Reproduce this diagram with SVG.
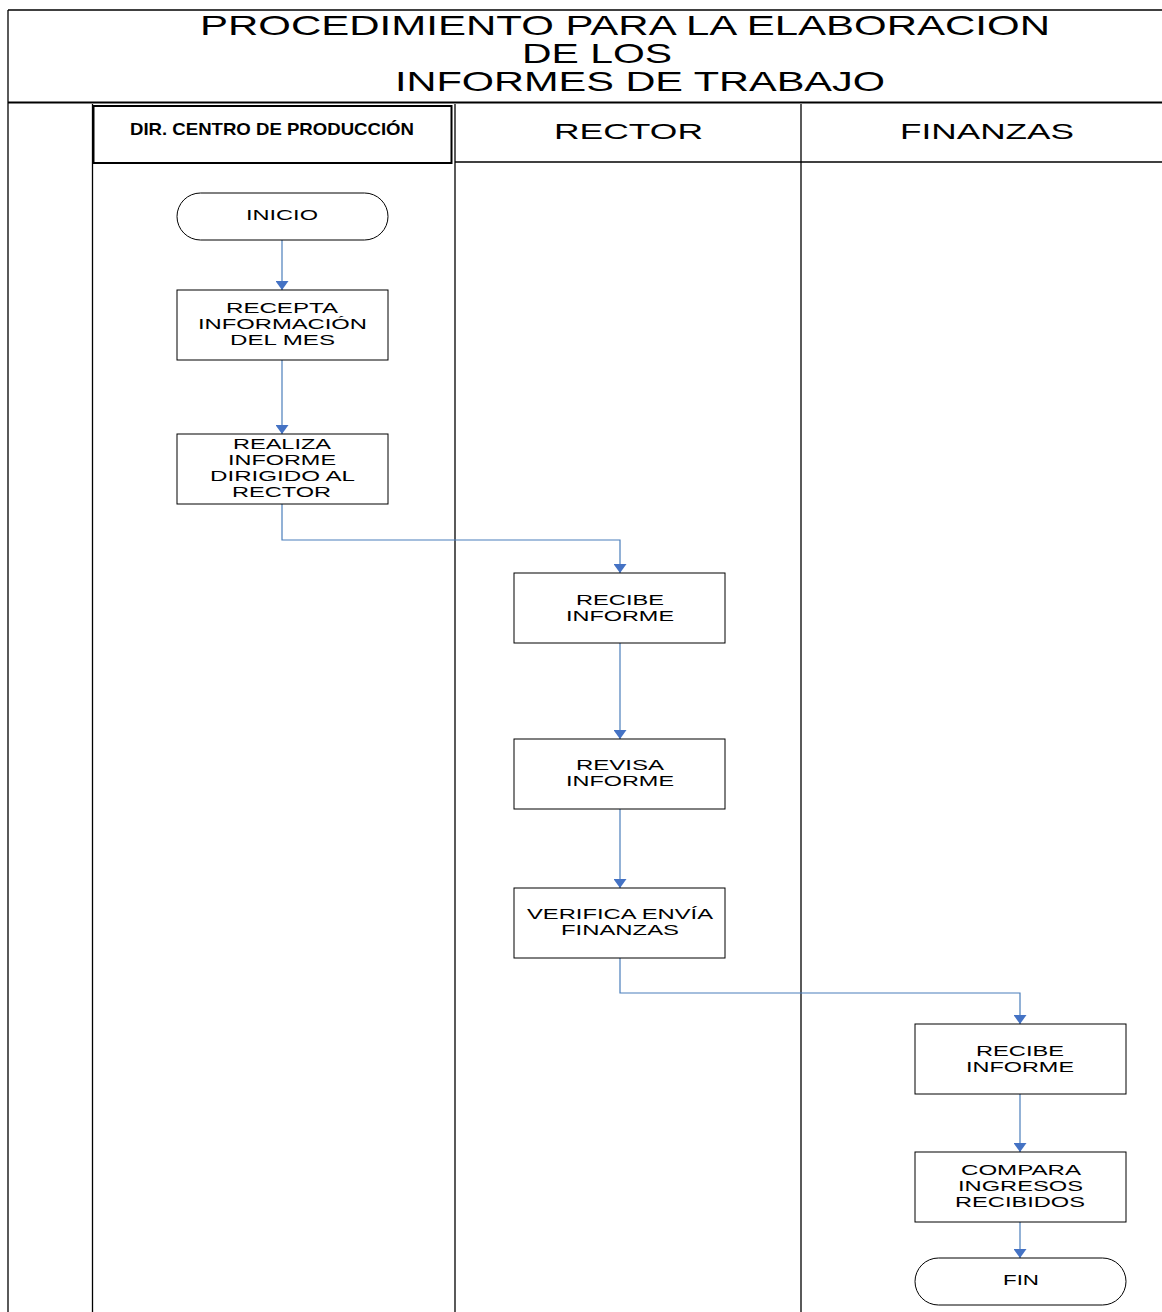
<svg xmlns="http://www.w3.org/2000/svg" width="1162" height="1312" viewBox="0 0 1162 1312">
<style>
.frame{stroke:#000;stroke-width:1.3;fill:none}
.node{fill:#fff;stroke:#000;stroke-width:1}
.t{font-family:"Liberation Sans",Arial,sans-serif;font-size:15.5px;fill:#000;text-anchor:middle}
.title{font-family:"Liberation Sans",Arial,sans-serif;font-size:28px;fill:#000;text-anchor:middle}
.lane{font-family:"Liberation Sans",Arial,sans-serif;font-size:22px;fill:#000;text-anchor:middle}
.conn{stroke:#4a7ebb;stroke-width:1.2;fill:none}
</style>
<defs>
<marker id="arr" viewBox="0 0 9 13" refX="9" refY="6.5" markerWidth="9" markerHeight="13" markerUnits="userSpaceOnUse" orient="auto">
<path d="M0,0 L9,6.5 L0,13 Z" fill="#4472c4"/>
</marker>
</defs>
<rect width="1162" height="1312" fill="#fff"/>
<g id="frame">
<line class="frame" x1="8" y1="10" x2="1162" y2="10"/>
<line class="frame" x1="8" y1="10" x2="8" y2="1312"/>
<line x1="8" y1="102.5" x2="1162" y2="102.5" stroke="#000" stroke-width="2"/>
<line class="frame" x1="92.5" y1="104" x2="92.5" y2="1312"/>
<line class="frame" x1="455" y1="104" x2="455" y2="1312"/>
<line class="frame" x1="801" y1="104" x2="801" y2="1312"/>
<line class="frame" x1="455" y1="162" x2="1162" y2="162"/>
<rect x="93.5" y="106" width="358" height="57" fill="none" stroke="#000" stroke-width="2"/>
<text class="title" x="625" y="35" textLength="850" lengthAdjust="spacingAndGlyphs">PROCEDIMIENTO PARA LA ELABORACION</text>
<text class="title" x="597" y="63" textLength="150" lengthAdjust="spacingAndGlyphs">DE LOS</text>
<text class="title" x="640" y="91" textLength="490" lengthAdjust="spacingAndGlyphs">INFORMES DE TRABAJO</text>
<text class="lane" x="272" y="135" style="font-size:17px;font-weight:bold" textLength="284" lengthAdjust="spacingAndGlyphs">DIR. CENTRO DE PRODUCCIÓN</text>
<text class="lane" x="628.5" y="139" textLength="149" lengthAdjust="spacingAndGlyphs">RECTOR</text>
<text class="lane" x="987" y="139" textLength="174" lengthAdjust="spacingAndGlyphs">FINANZAS</text>
</g>
<g id="connectors">
<path class="conn" d="M282,240 V290" marker-end="url(#arr)"/>
<path class="conn" d="M282,360 V434" marker-end="url(#arr)"/>
<path class="conn" d="M282,504 V540 H620 V573" marker-end="url(#arr)"/>
<path class="conn" d="M620,643 V739" marker-end="url(#arr)"/>
<path class="conn" d="M620,809 V888" marker-end="url(#arr)"/>
<path class="conn" d="M620,958 V993 H1020 V1024" marker-end="url(#arr)"/>
<path class="conn" d="M1020,1094 V1152" marker-end="url(#arr)"/>
<path class="conn" d="M1020,1222 V1258" marker-end="url(#arr)"/>
</g>
<g id="inicio">
<rect class="node" x="177" y="193" width="211" height="47" rx="23.5" ry="23.5"/>
<text class="t" x="282" y="220" textLength="72" lengthAdjust="spacingAndGlyphs">INICIO</text>
</g>
<g id="recepta">
<rect class="node" x="177" y="290" width="211" height="70"/>
<text class="t" x="282" y="313" textLength="112" lengthAdjust="spacingAndGlyphs">RECEPTA</text>
<text class="t" x="282.5" y="329" textLength="169" lengthAdjust="spacingAndGlyphs">INFORMACIÓN</text>
<text class="t" x="282.5" y="345" textLength="105" lengthAdjust="spacingAndGlyphs">DEL MES</text>
</g>
<g id="realiza">
<rect class="node" x="177" y="434" width="211" height="70"/>
<text class="t" x="282" y="449" textLength="98" lengthAdjust="spacingAndGlyphs">REALIZA</text>
<text class="t" x="282" y="465" textLength="108" lengthAdjust="spacingAndGlyphs">INFORME</text>
<text class="t" x="282.5" y="481" textLength="145" lengthAdjust="spacingAndGlyphs">DIRIGIDO AL</text>
<text class="t" x="281.5" y="497" textLength="99" lengthAdjust="spacingAndGlyphs">RECTOR</text>
</g>
<g id="recibe-rector">
<rect class="node" x="514" y="573" width="211" height="70"/>
<text class="t" x="620" y="605" textLength="88" lengthAdjust="spacingAndGlyphs">RECIBE</text>
<text class="t" x="620" y="621" textLength="108" lengthAdjust="spacingAndGlyphs">INFORME</text>
</g>
<g id="revisa">
<rect class="node" x="514" y="739" width="211" height="70"/>
<text class="t" x="620" y="770" textLength="88" lengthAdjust="spacingAndGlyphs">REVISA</text>
<text class="t" x="620" y="786" textLength="108" lengthAdjust="spacingAndGlyphs">INFORME</text>
</g>
<g id="verifica">
<rect class="node" x="514" y="888" width="211" height="70"/>
<text class="t" x="620" y="919" textLength="186" lengthAdjust="spacingAndGlyphs">VERIFICA ENVÍA</text>
<text class="t" x="620" y="935" textLength="118" lengthAdjust="spacingAndGlyphs">FINANZAS</text>
</g>
<g id="recibe-finanzas">
<rect class="node" x="915" y="1024" width="211" height="70"/>
<text class="t" x="1020" y="1056" textLength="88" lengthAdjust="spacingAndGlyphs">RECIBE</text>
<text class="t" x="1020" y="1072" textLength="108" lengthAdjust="spacingAndGlyphs">INFORME</text>
</g>
<g id="compara">
<rect class="node" x="915" y="1152" width="211" height="70"/>
<text class="t" x="1021" y="1175" textLength="120" lengthAdjust="spacingAndGlyphs">COMPARA</text>
<text class="t" x="1020.5" y="1191" textLength="125" lengthAdjust="spacingAndGlyphs">INGRESOS</text>
<text class="t" x="1020" y="1207" textLength="130" lengthAdjust="spacingAndGlyphs">RECIBIDOS</text>
</g>
<g id="fin">
<rect class="node" x="915" y="1258" width="211" height="47" rx="23.5" ry="23.5"/>
<text class="t" x="1021" y="1285" textLength="36" lengthAdjust="spacingAndGlyphs">FIN</text>
</g>
</svg>
